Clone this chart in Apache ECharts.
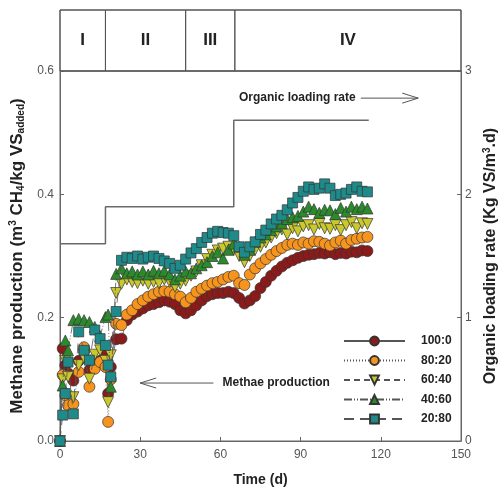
<!DOCTYPE html>
<html>
<head>
<meta charset="UTF-8">
<title>Methane production</title>
<script src="https://cdn.jsdelivr.net/npm/echarts@6.0.0/dist/echarts.min.js"></script>
<style>
  html, body { margin: 0; padding: 0; background: #fff; }
  #main { width: 502px; height: 491px; }
</style>
</head>
<body>
<div id="main"></div>
<script>
// sampling days
var days = [0,1,2,3,5,7,9,11,13,15,17,18,19,21,23,25,27,29,31,33,35,37,39,41,43,45,47,49,51,53,55,57,59,61,63,65,67,69,71,73,75,77,79,81,83,85,87,89,91,93,95,97,99,101,103,105,107,109,111,113,115];

// methane production, m3 CH4 / kg VS added
var r100 = [0,0.15,0.123,0.11,0.098,0.13,0.147,0.115,0.125,0.13,0.14,0.077,0.12,0.165,
  0.166,0.196,0.205,0.21,0.215,0.22,0.222,0.225,0.228,0.226,
  0.222,0.212,0.207,0.212,0.22,0.228,0.235,0.238,0.24,0.24,
  0.242,0.24,0.232,0.223,0.228,0.235,0.248,0.258,0.268,0.276,
  0.283,0.289,0.293,0.297,0.3,0.302,0.303,0.305,0.304,0.306,
  0.303,0.305,0.304,0.307,0.306,0.309,0.308];
var r80 = [0,0.107,0.074,0.058,0.06,0.112,0.152,0.088,0.117,0.128,0.12,0.031,0.1,0.19,
  0.188,0.205,0.212,0.222,0.228,0.234,0.238,0.242,0.243,0.242,
  0.238,0.234,0.225,0.232,0.242,0.247,0.252,0.256,0.258,0.262,
  0.266,0.268,0.256,0.253,0.27,0.28,0.288,0.295,0.302,0.308,
  0.313,0.318,0.32,0.318,0.322,0.32,0.324,0.323,0.32,0.317,
  0.322,0.325,0.32,0.326,0.328,0.33,0.331];
var r60 = [0,0.1,0.13,0.104,0.071,0.123,0.135,0.101,0.14,0.147,0.13,0.063,0.139,0.24,
  0.255,0.262,0.258,0.256,0.26,0.255,0.258,0.256,0.262,0.258,
  0.25,0.255,0.26,0.268,0.275,0.285,0.295,0.302,0.309,0.312,
  0.315,0.31,0.3,0.29,0.3,0.31,0.315,0.322,0.33,0.337,
  0.343,0.335,0.345,0.34,0.348,0.35,0.343,0.352,0.345,0.344,
  0.35,0.342,0.35,0.355,0.345,0.353,0.352];
var r40 = [0,0.09,0.163,0.147,0.196,0.198,0.196,0.193,0.185,0.17,0.201,0.205,0.088,0.271,
  0.28,0.272,0.275,0.27,0.275,0.27,0.276,0.272,0.276,0.27,
  0.262,0.268,0.275,0.272,0.28,0.285,0.29,0.3,0.306,0.296,
  0.31,0.32,0.315,0.302,0.31,0.323,0.33,0.335,0.342,0.348,
  0.353,0.36,0.363,0.365,0.372,0.38,0.376,0.37,0.375,0.374,
  0.368,0.378,0.372,0.38,0.376,0.38,0.377];
var r20 = [0,0.042,0.077,0.128,0.044,0.177,0.147,0.131,0.18,0.166,0.155,0.123,0.104,0.21,
  0.293,0.298,0.296,0.3,0.295,0.298,0.3,0.296,0.292,0.288,
  0.28,0.285,0.295,0.305,0.312,0.322,0.33,0.337,0.34,0.338,
  0.337,0.333,0.315,0.306,0.315,0.323,0.335,0.342,0.352,0.36,
  0.366,0.375,0.386,0.395,0.405,0.412,0.408,0.41,0.417,0.41,
  0.398,0.4,0.402,0.408,0.412,0.405,0.404];

// organic loading rate, kg VS / m3.d (step)
var olrDays = [0, 17, 65, 115.5];
var olrValues = [1.6, 1.9, 2.6, 2.6];

// phases
var phaseNames = ['I', 'II', 'III', 'IV'];
var phaseBounds = [0, 17, 47, 65.4, 150];

var ratioNames = ['100:0', '80:20', '60:40', '40:60', '20:80'];
var ratioData = [r100, r80, r60, r40, r20];
var ratioColors = ['#8b1a1a', '#f7941e', '#c9c82c', '#2b8a2b', '#1f8a8a'];
var ratioSymbols = ['circle', 'circle', 'triangle', 'triangle', 'rect'];
var ratioRotate = [0, 0, 180, 0, 0];
var ratioDash = ['solid', [1, 2], [6, 4], [8, 2, 1, 2, 1, 2], [10, 6]];

var REG = "'Liberation Sans', Arial, sans-serif";

function pairs(xs, ys) {
  var out = [];
  for (var i = 0; i < xs.length; i++) out.push([xs[i], ys[i]]);
  return out;
}

var series = [];
for (var k = 0; k < ratioNames.length; k++) {
  series.push({
    name: ratioNames[k],
    type: 'line',
    xAxisIndex: 0,
    yAxisIndex: 0,
    data: pairs(days, ratioData[k]),
    symbol: ratioSymbols[k],
    symbolRotate: ratioRotate[k],
    symbolSize: ratioSymbols[k] === 'rect' ? 10 : 11,
    showAllSymbol: true,
    lineStyle: { color: '#555', width: 0.8, type: ratioDash[k] },
    itemStyle: { color: ratioColors[k], borderColor: '#333', borderWidth: 0.7 },
    emphasis: { disabled: true },
    z: 3 + k
  });
}

series.push({
  name: 'OLR',
  type: 'line',
  xAxisIndex: 0,
  yAxisIndex: 1,
  step: 'end',
  data: pairs(olrDays, olrValues),
  symbol: 'none',
  lineStyle: { color: '#6a6a6a', width: 1.5 },
  z: 2
});

// phase boxes on the top strip
var phaseAreas = [];
var phaseMid = [];
for (var p = 0; p < phaseNames.length; p++) {
  phaseAreas.push([{ xAxis: phaseBounds[p], name: phaseNames[p] }, { xAxis: phaseBounds[p + 1] }]);
  phaseMid.push([(phaseBounds[p] + phaseBounds[p + 1]) / 2, 0.5]);
}
series.push({
  name: 'phases',
  type: 'scatter',
  xAxisIndex: 1,
  yAxisIndex: 2,
  data: phaseMid,
  symbolSize: 0,
  silent: true,
  markArea: {
    silent: true,
    itemStyle: { color: 'rgba(0,0,0,0)', borderColor: '#555', borderWidth: 1 },
    label: {
      show: true, position: 'inside', color: '#222',
      fontFamily: REG, fontWeight: 'bold', fontSize: 17
    },
    data: phaseAreas
  }
});

var chart = echarts.init(document.getElementById('main'), null, { renderer: 'canvas' });

var option = {
  animation: false,
  backgroundColor: '#fff',
  grid: [
    { left: 60, right: 41, top: 71, bottom: 50, outerBoundsMode: 'none', containLabel: false, show: true, borderColor: '#666', borderWidth: 1 },
    { left: 60, right: 41, top: 10, height: 61, outerBoundsMode: 'none', containLabel: false, show: true, borderColor: '#555', borderWidth: 1 }
  ],
  legend: {
    data: ratioNames,
    orient: 'vertical',
    left: 338,
    top: 330,
    itemWidth: 61,
    itemHeight: 11,
    itemGap: 7.5,
    selectedMode: false,
    textStyle: { fontFamily: REG, fontWeight: 'bold', fontSize: 12, color: '#222', padding: [0, 0, 0, 11] }
  },
  xAxis: [
    {
      type: 'value', gridIndex: 0, min: 0, max: 150, interval: 30,
      name: 'Time (d)', nameLocation: 'middle', nameGap: 32,
      nameTextStyle: { fontFamily: REG, fontWeight: 'bold', fontSize: 14, color: '#222' },
      axisLine: { lineStyle: { color: '#666' } },
      axisTick: { inside: true, length: 4, lineStyle: { color: '#666' } },
      axisLabel: { fontFamily: REG, fontSize: 12, color: '#555', margin: 8 },
      splitLine: { show: false }
    },
    { type: 'value', gridIndex: 1, min: 0, max: 150, show: false }
  ],
  yAxis: [
    {
      type: 'value', gridIndex: 0, min: 0, max: 0.6, interval: 0.2,
      name: 'Methane production (m{sup|3} CH{sub|4}/kg VS{sub|added})',
      nameLocation: 'middle', nameGap: 34,
      nameTextStyle: {
        fontFamily: REG, fontWeight: 'bold', fontSize: 17, color: '#222',
        rich: {
          sup: { fontFamily: REG, fontWeight: 'bold', fontSize: 10, verticalAlign: 'top', padding: [0, 0, 8, 0], color: '#222' },
          sub: { fontFamily: REG, fontWeight: 'bold', fontSize: 10, verticalAlign: 'bottom', padding: [8, 0, 0, 0], color: '#222' }
        }
      },
      axisLine: { show: true, lineStyle: { color: '#666' } },
      axisTick: { show: true, inside: true, length: 4, lineStyle: { color: '#666' } },
      axisLabel: { fontFamily: REG, fontSize: 12, color: '#555', margin: 6, formatter: function (v) { return v.toFixed(1); } },
      splitLine: { show: false }
    },
    {
      type: 'value', gridIndex: 0, min: 0, max: 3, interval: 1, position: 'right',
      name: 'Organic loading rate (Kg VS/m{sup|3}.d)',
      nameLocation: 'middle', nameGap: 19,
      nameTextStyle: {
        fontFamily: REG, fontWeight: 'bold', fontSize: 16, color: '#222',
        rich: {
          sup: { fontFamily: REG, fontWeight: 'bold', fontSize: 10, verticalAlign: 'top', padding: [0, 0, 6, 0], color: '#222' }
        }
      },
      axisLine: { show: true, lineStyle: { color: '#666' } },
      axisTick: { show: true, inside: true, length: 4, lineStyle: { color: '#666' } },
      axisLabel: { fontFamily: REG, fontSize: 12, color: '#555', margin: 4 },
      splitLine: { show: false }
    },
    { type: 'value', gridIndex: 1, min: 0, max: 1, show: false }
  ],
  series: series
};
chart.setOption(option);

// annotations with arrows, placed in data space
var notes = [
  { text: 'Organic loading rate', at: [110.6, 0.556], align: 'right', from: [112.5, 0.556], to: [134, 0.556] },
  { text: 'Methae production', at: [60.8, 0.094], align: 'left', from: [57.4, 0.094], to: [30, 0.094] }
];
var g = [];
notes.forEach(function (n) {
  var t = chart.convertToPixel({ xAxisIndex: 0, yAxisIndex: 0 }, n.at);
  var a = chart.convertToPixel({ xAxisIndex: 0, yAxisIndex: 0 }, n.from);
  var b = chart.convertToPixel({ xAxisIndex: 0, yAxisIndex: 0 }, n.to);
  var dx = b[0] - a[0], dy = b[1] - a[1];
  var len = Math.sqrt(dx * dx + dy * dy);
  var ux = dx / len, uy = dy / len;
  g.push({
    type: 'text', x: t[0], y: t[1], silent: true,
    style: { text: n.text, fill: '#222', font: 'bold 12px ' + REG, align: n.align, verticalAlign: 'middle' }
  });
  g.push({
    type: 'polyline', silent: true,
    shape: { points: [a, b] },
    style: { stroke: '#555', lineWidth: 1, fill: null }
  });
  g.push({
    type: 'polyline', silent: true,
    shape: { points: [[b[0] - 16 * ux - 5 * uy, b[1] - 16 * uy + 5 * ux], b, [b[0] - 16 * ux + 5 * uy, b[1] - 16 * uy - 5 * ux]] },
    style: { stroke: '#555', lineWidth: 1, fill: null }
  });
});
chart.setOption({ graphic: g });
</script>
</body>
</html>
